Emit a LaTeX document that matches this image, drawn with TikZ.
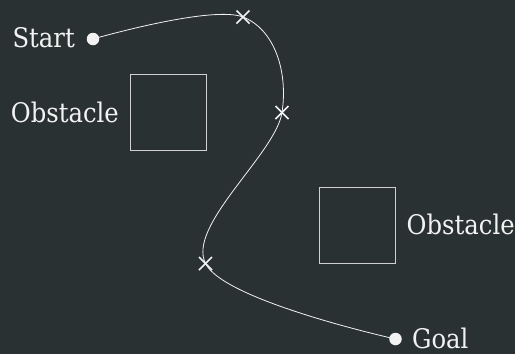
\documentclass[tikz,border=0pt]{standalone}
\usepackage{fontspec}
\setmainfont{DejaVu Serif}[FakeStretch=0.9]
\definecolor{bg}{HTML}{2A3133}
\definecolor{fg}{HTML}{F2F2F2}
\definecolor{boxc}{HTML}{D0D0D0}
\begin{document}
\begin{tikzpicture}[x=1pt,y=-1pt,
  lbl/.style={text=fg,inner sep=0pt,font=\fontsize{27}{32}\selectfont},
  obst/.style={draw=boxc,line width=0.9pt},
  dotc/.style={circle,fill=fg,inner sep=0pt,minimum size=12.5pt},
  wp/.style={inner sep=0pt,minimum size=0pt},
  cross/.style={draw=fg,line width=1.5pt},
  route/.style={draw=fg,line width=0.8pt}]
\fill[bg] (0,0) rectangle (515,354);
\useasboundingbox (0,0) rectangle (515,354);
% obstacles
\node[obst,minimum width=76pt,minimum height=75.5pt,inner sep=0pt] (ob1) at (168.5,112.5) {};
\node[obst,minimum width=76pt,minimum height=75.5pt,inner sep=0pt] (ob2) at (357.5,225.5) {};
\node[lbl,anchor=base east] (ob1l) at (119,122.5) {Obstacle};
\node[lbl,anchor=base west] (ob2l) at (406.5,234) {Obstacle};
% waypoints
\coordinate (s) at (93,39);
\coordinate (w1) at (243,17);
\coordinate (w2) at (282,112.5);
\coordinate (w3) at (205.5,263.5);
\coordinate (g) at (395.5,339);
\draw[route] plot[smooth,tension=0.6] coordinates {(s) (w1) (w2) (w3) (g)};
\foreach \p in {w1,w2,w3}{
  \draw[cross] ([shift={(-6.5,-6.5)}]\p) -- ([shift={(6.5,6.5)}]\p);
  \draw[cross] ([shift={(-6.5,6.5)}]\p) -- ([shift={(6.5,-6.5)}]\p);
}
\node[dotc] (sd) at (s) {};
\node[dotc] (gd) at (g) {};
\node[lbl,anchor=base east] (sl) at (75,47.5) {Start};
\node[lbl,anchor=base west] (gl) at (412,348) {Goal};
\end{tikzpicture}
\end{document}
